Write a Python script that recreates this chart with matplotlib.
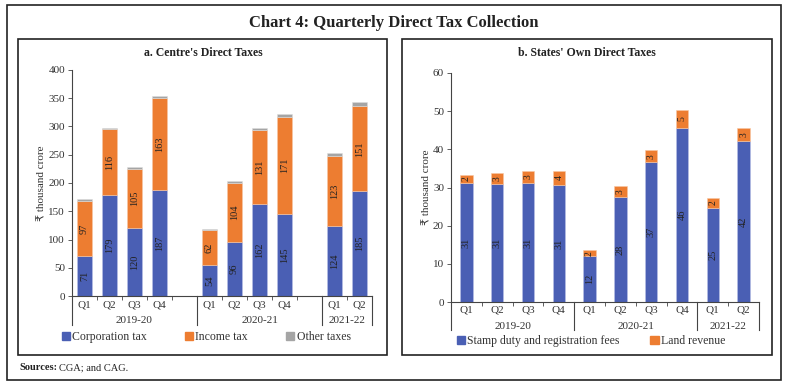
import matplotlib
matplotlib.use("Agg")
import matplotlib.pyplot as plt
from matplotlib.patches import Rectangle, Patch

plt.rcParams['font.family'] = ['Liberation Serif', 'DejaVu Sans']

# panel a: centre's direct taxes (thousand crore)
quarters_a = ["Q1", "Q2", "Q3", "Q4", "Q1", "Q2", "Q3", "Q4", "Q1", "Q2"]
slots_a = [0, 1, 2, 3, 5, 6, 7, 8, 10, 11]
corp_tax = [71, 179, 120, 187, 54, 96, 162, 145, 124, 185]
income_tax = [97, 116, 105, 163, 62, 104, 131, 171, 123, 151]
other_tax = [3, 3, 4, 4, 3, 4, 5, 6, 6, 7]
years_a = ["2019-20", "2020-21", "2021-22"]

# panel b: states' own direct taxes (thousand crore)
quarters_b = ["Q1", "Q2", "Q3", "Q4", "Q1", "Q2", "Q3", "Q4", "Q1", "Q2"]
stamp_duty = [31.2, 30.8, 31.2, 30.6, 12.0, 27.5, 36.7, 45.6, 24.7, 42.2]
land_rev = [2.2, 2.9, 3.1, 3.8, 1.6, 3.0, 3.0, 4.8, 2.5, 3.3]
years_b = ["2019-20", "2020-21", "2021-22"]

BLUE = "#4a5fb4"
ORANGE = "#ed7d31"
GREY = "#a5a5a5"
TXT = "#222222"

W, H = 788, 388
fig = plt.figure(figsize=(W / 100, H / 100), dpi=100)


def px_box(x0, y0, x1, y1, lw=1.2):
    fig.patches.append(Rectangle((x0 / W, 1 - y1 / H), (x1 - x0) / W, (y1 - y0) / H,
                                 transform=fig.transFigure, fill=False,
                                 edgecolor="#222222", linewidth=lw))


def px_axes(x0, ytop, x1, ybot):
    return fig.add_axes([x0 / W, 1 - ybot / H, (x1 - x0) / W, (ybot - ytop) / H])


# frames
px_box(7, 5, 781, 380)
px_box(18, 39, 387, 355)
px_box(402, 39, 772, 355)

fig.text(394 / W, 1 - 23 / H, "Chart 4: Quarterly Direct Tax Collection",
         ha="center", va="center", fontsize=12, fontweight="bold", color=TXT)
fig.text(203 / W, 1 - 53 / H, "a. Centre's Direct Taxes", ha="center", va="center",
         fontsize=8.5, fontweight="bold", color=TXT)
fig.text(587 / W, 1 - 53 / H, "b. States' Own Direct Taxes", ha="center", va="center",
         fontsize=8.5, fontweight="bold", color=TXT)
fig.text(19 / W, 1 - 368 / H, "Sources:", ha="left", va="center",
         fontsize=7.5, fontweight="bold", color=TXT)
fig.text(59 / W, 1 - 368 / H, "CGA; and CAG.", ha="left", va="center",
         fontsize=7.5, color=TXT)


def style_axes(ax, nslots, ymax, ystep):
    for s in ["top", "right"]:
        ax.spines[s].set_visible(False)
    for s in ["left", "bottom"]:
        ax.spines[s].set_linewidth(0.8)
        ax.spines[s].set_color("#444444")
    ax.set_xlim(-0.5, nslots - 0.5)
    ax.set_ylim(0, ymax)
    ax.set_yticks(range(0, ymax + 1, ystep))
    ax.set_xticks([i - 0.5 for i in range(nslots + 1)])
    ax.set_xticklabels([])
    ax.tick_params(axis="x", length=3, width=0.6, color="#444444")
    ax.tick_params(axis="y", length=3, width=0.6, color="#444444",
                   labelsize=8, labelcolor="#333333", pad=2)
    ax.set_ylabel("₹ thousand crore", fontsize=8, color="#333333", labelpad=1)


def category_labels(ax, slots, quarters, groups, years, yq, yy, ysep):
    tr = ax.get_xaxis_transform()
    for x, q in zip(slots, quarters):
        ax.text(x, yq, q, transform=tr, ha="center", va="center", fontsize=8, color="#333333")
    for (a, b), yr in zip(groups, years):
        ax.text((a + b) / 2, yy, yr, transform=tr, ha="center", va="center",
                fontsize=8, color="#333333")
    edges = sorted(set([g[0] for g in groups] + [g[1] for g in groups]))
    for e in edges:
        ax.plot([e, e], [0, ysep], transform=tr, color="#444444", lw=0.8, clip_on=False)


# ---- panel a
ax1 = px_axes(72, 70, 372, 296)
style_axes(ax1, 12, 400, 50)
b1 = [c + i for c, i in zip(corp_tax, income_tax)]
ax1.bar(slots_a, corp_tax, width=0.6, color=BLUE, edgecolor="#b8c0e6", linewidth=0.4,
        label="Corporation tax")
ax1.bar(slots_a, income_tax, width=0.6, bottom=corp_tax, color=ORANGE, edgecolor="#f7c7a4",
        linewidth=0.4, label="Income tax")
ax1.bar(slots_a, other_tax, width=0.6, bottom=b1, color=GREY, edgecolor="#dddddd",
        linewidth=0.4, label="Other taxes")
for x, c, i in zip(slots_a, corp_tax, income_tax):
    ax1.text(x, c / 2, f"{c}", rotation=90, ha="center", va="center", fontsize=7.5, color=TXT)
    ax1.text(x, c + i / 2, f"{i}", rotation=90, ha="center", va="center", fontsize=7.5, color=TXT)
category_labels(ax1, slots_a, quarters_a, [(-0.5, 4.5), (4.5, 9.5), (9.5, 11.5)], years_a,
                -0.042, -0.108, -0.128)
ax1.legend(handles=[Patch(color=BLUE, label="Corporation tax"),
                    Patch(color=ORANGE, label="Income tax"),
                    Patch(color=GREY, label="Other taxes")],
           loc="center", bbox_to_anchor=(0.447, -0.183), ncol=3, frameon=False,
           fontsize=8.5, handlelength=0.7, handleheight=0.7, handletextpad=0.2,
           columnspacing=3.2, labelcolor="#333333")

# ---- panel b
slots_b = list(range(len(quarters_b)))
ax2 = px_axes(451, 73, 759, 302)
style_axes(ax2, 10, 60, 10)
ax2.bar(slots_b, stamp_duty, width=0.4, color=BLUE, edgecolor="#b8c0e6", linewidth=0.4)
ax2.bar(slots_b, land_rev, width=0.4, bottom=stamp_duty, color=ORANGE, edgecolor="#f7c7a4",
        linewidth=0.4)
for x, s, l in zip(slots_b, stamp_duty, land_rev):
    ax2.text(x, s / 2, f"{s:.0f}", rotation=90, ha="center", va="center", fontsize=7.5, color=TXT)
    ax2.text(x, s + l / 2, f"{l:.0f}", rotation=90, ha="center", va="center", fontsize=7, color=TXT)
category_labels(ax2, slots_b, quarters_b, [(-0.5, 3.5), (3.5, 7.5), (7.5, 9.5)], years_b,
                -0.036, -0.106, -0.122)
ax2.legend(handles=[Patch(color=BLUE, label="Stamp duty and registration fees"),
                    Patch(color=ORANGE, label="Land revenue")],
           loc="center", bbox_to_anchor=(0.455, -0.17), ncol=2, frameon=False,
           fontsize=8.5, handlelength=0.7, handleheight=0.7, handletextpad=0.2,
           columnspacing=2.6, labelcolor="#333333")

fig.savefig("out.png", dpi=100)
